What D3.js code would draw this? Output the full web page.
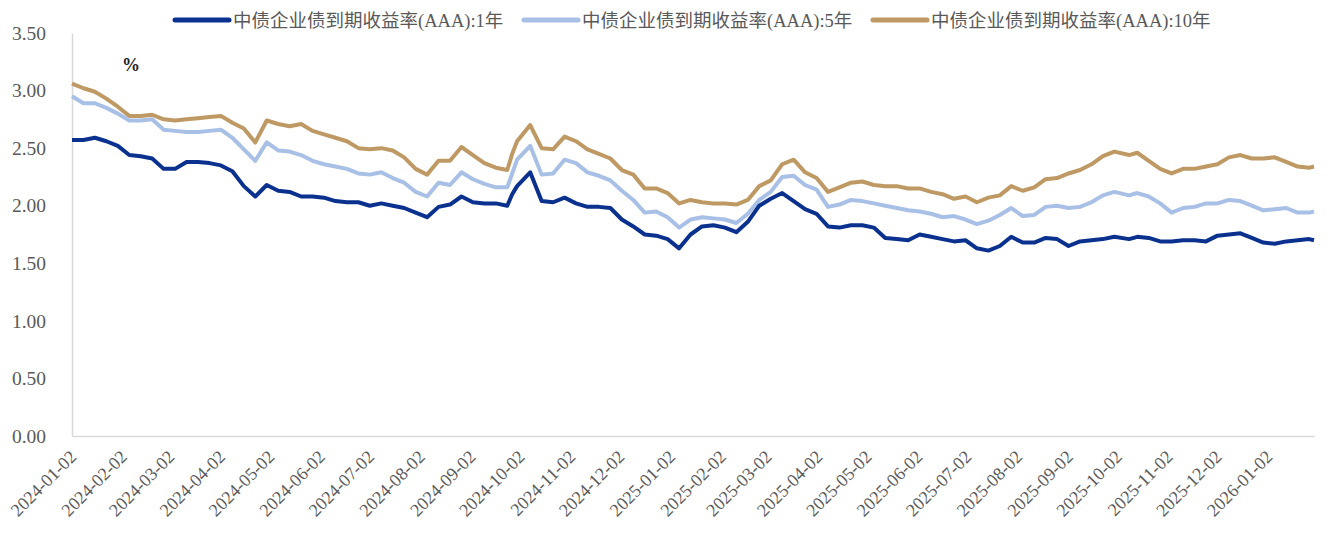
<!DOCTYPE html>
<html>
<head>
<meta charset="utf-8">
<script src="https://cdn.jsdelivr.net/npm/d3@7"></script>
<style>
  body { margin: 0; background: #fff; }
  #vis text { font-family: "Liberation Serif", "Noto Sans CJK SC", serif; fill: #595959; }
  .axis path { stroke: #d9d9d9; stroke-width: 1.5; }
</style>
</head>
<body>
<div id="vis"></div>
<script>
// Chinese AAA corporate bond yields, weekly samples

/* *************************** Data ***************************** */

var dates = [
  '2024-01-02','2024-01-09','2024-01-16','2024-01-23','2024-01-30','2024-02-06','2024-02-13','2024-02-20','2024-02-27',
  '2024-03-05','2024-03-12','2024-03-19','2024-03-26','2024-04-02','2024-04-09','2024-04-16','2024-04-23','2024-04-30',
  '2024-05-07','2024-05-14','2024-05-21','2024-05-28','2024-06-04','2024-06-11','2024-06-18','2024-06-25','2024-07-02',
  '2024-07-09','2024-07-16','2024-07-23','2024-07-30','2024-08-06','2024-08-13','2024-08-20','2024-08-27','2024-09-03',
  '2024-09-10','2024-09-17','2024-09-24','2024-09-27','2024-09-30','2024-10-08','2024-10-15','2024-10-22','2024-10-29',
  '2024-11-05','2024-11-12','2024-11-19','2024-11-26','2024-12-03','2024-12-10','2024-12-17','2024-12-24','2024-12-31',
  '2025-01-07','2025-01-14','2025-01-21','2025-01-28','2025-02-04','2025-02-11','2025-02-18','2025-02-25','2025-03-04',
  '2025-03-11','2025-03-18','2025-03-25','2025-04-01','2025-04-08','2025-04-15','2025-04-22','2025-04-29','2025-05-06',
  '2025-05-13','2025-05-20','2025-05-27','2025-06-03','2025-06-10','2025-06-17','2025-06-24','2025-07-01','2025-07-08',
  '2025-07-15','2025-07-22','2025-07-29','2025-08-05','2025-08-12','2025-08-19','2025-08-26','2025-09-02','2025-09-09',
  '2025-09-16','2025-09-23','2025-09-30','2025-10-09','2025-10-14','2025-10-21','2025-10-28','2025-11-04','2025-11-11',
  '2025-11-18','2025-11-25','2025-12-02','2025-12-09','2025-12-16','2025-12-23','2025-12-30','2026-01-06','2026-01-13',
  '2026-01-20','2026-01-27','2026-01-30'
];

var yield1y = [
  2.57,2.57,2.59,2.56,2.52,2.44,2.43,2.41,2.32,
  2.32,2.38,2.38,2.37,2.35,2.30,2.17,2.08,2.18,
  2.13,2.12,2.08,2.08,2.07,2.04,2.03,2.03,2.00,
  2.02,2.00,1.98,1.94,1.90,1.99,2.01,2.08,2.03,
  2.02,2.02,2.00,2.10,2.17,2.29,2.04,2.03,2.07,
  2.02,1.99,1.99,1.98,1.88,1.82,1.75,1.74,1.71,
  1.63,1.75,1.82,1.83,1.81,1.77,1.86,2.00,2.06,
  2.11,2.04,1.97,1.93,1.82,1.81,1.83,1.83,1.81,
  1.72,1.71,1.70,1.75,1.73,1.71,1.69,1.70,1.63,
  1.61,1.65,1.73,1.68,1.68,1.72,1.71,1.65,1.69,
  1.70,1.71,1.73,1.71,1.73,1.72,1.69,1.69,1.70,
  1.70,1.69,1.74,1.75,1.76,1.72,1.68,1.67,1.69,
  1.70,1.71,1.70
];

var yield5y = [
  2.95,2.89,2.89,2.85,2.80,2.74,2.74,2.75,2.66,
  2.65,2.64,2.64,2.65,2.66,2.59,2.49,2.39,2.55,
  2.48,2.47,2.44,2.39,2.36,2.34,2.32,2.28,2.27,
  2.29,2.24,2.20,2.12,2.08,2.20,2.18,2.29,2.23,
  2.19,2.16,2.16,2.28,2.40,2.52,2.27,2.28,2.40,
  2.37,2.29,2.26,2.22,2.13,2.05,1.94,1.95,1.90,
  1.81,1.88,1.90,1.89,1.88,1.85,1.93,2.05,2.12,
  2.25,2.26,2.18,2.14,1.99,2.01,2.05,2.04,2.02,
  2.00,1.98,1.96,1.95,1.93,1.90,1.91,1.88,1.84,
  1.87,1.92,1.98,1.91,1.92,1.99,2.00,1.98,1.99,
  2.03,2.09,2.12,2.09,2.11,2.08,2.02,1.94,1.98,
  1.99,2.02,2.02,2.05,2.04,2.00,1.96,1.97,1.98,
  1.94,1.94,1.95
];

var yield10y = [
  3.06,3.02,2.99,2.93,2.86,2.78,2.78,2.79,2.75,
  2.74,2.75,2.76,2.77,2.78,2.72,2.67,2.55,2.74,
  2.71,2.69,2.71,2.65,2.62,2.59,2.56,2.50,2.49,
  2.50,2.48,2.42,2.32,2.27,2.39,2.39,2.51,2.44,
  2.37,2.33,2.31,2.45,2.56,2.70,2.50,2.49,2.60,
  2.56,2.49,2.45,2.41,2.31,2.27,2.15,2.15,2.11,
  2.02,2.05,2.03,2.02,2.02,2.01,2.05,2.17,2.22,
  2.36,2.40,2.29,2.24,2.12,2.16,2.20,2.21,2.18,
  2.17,2.17,2.15,2.15,2.12,2.10,2.06,2.08,2.03,
  2.07,2.09,2.17,2.13,2.16,2.23,2.24,2.28,2.31,
  2.36,2.43,2.47,2.44,2.46,2.39,2.32,2.28,2.32,
  2.32,2.34,2.36,2.42,2.44,2.41,2.41,2.42,2.38,
  2.34,2.33,2.34
];

var seriesNames = ['中债企业债到期收益率(AAA):1年', '中债企业债到期收益率(AAA):5年', '中债企业债到期收益率(AAA):10年'];
var seriesColors = ['#0b318f', '#a8bfe6', '#be9964'];

var xTickLabels = [
  '2024-01-02','2024-02-02','2024-03-02','2024-04-02','2024-05-02','2024-06-02','2024-07-02','2024-08-02','2024-09-02',
  '2024-10-02','2024-11-02','2024-12-02','2025-01-02','2025-02-02','2025-03-02','2025-04-02','2025-05-02','2025-06-02',
  '2025-07-02','2025-08-02','2025-09-02','2025-10-02','2025-11-02','2025-12-02','2026-01-02'
];
var yTicks = [0, 0.5, 1, 1.5, 2, 2.5, 3, 3.5];

/* *************************** Settings ***************************** */

var width = 1333;
var height = 535;
var margin = { left: 72, right: 19, top: 33, bottom: 99 };
var drawWidth = width - margin.left - margin.right;
var drawHeight = height - margin.top - margin.bottom;

var parse = d3.timeParse('%Y-%m-%d');

var svg = d3.select('#vis')
    .append('svg')
    .attr('width', width)
    .attr('height', height);

var g = svg.append('g')
    .attr('transform', 'translate(' + margin.left + ',' + margin.top + ')');

/* *************************** Scales ***************************** */

var xScale = d3.scaleTime()
    .domain([parse('2024-01-02'), parse('2026-01-30')])
    .range([0, drawWidth]);

var yScale = d3.scaleLinear()
    .domain([0, 3.5])
    .range([drawHeight, 0]);

/* *************************** Axes ***************************** */

var xAxis = d3.axisBottom(xScale)
    .tickValues(xTickLabels.map(parse))
    .tickFormat(d3.timeFormat('%Y-%m-%d'))
    .tickSize(0)
    .tickSizeOuter(0);

var xAxisG = g.append('g')
    .attr('class', 'axis')
    .attr('transform', 'translate(0,' + drawHeight + ')')
    .call(xAxis);

xAxisG.selectAll('text')
    .attr('y', 0)
    .attr('x', 0)
    .attr('dy', 0)
    .attr('transform', 'translate(5,22) rotate(-45)')
    .style('text-anchor', 'end')
    .style('font-size', '18px');

var yAxis = d3.axisLeft(yScale)
    .tickValues(yTicks)
    .tickFormat(d3.format('.2f'))
    .tickSize(0)
    .tickSizeOuter(0)
    .tickPadding(26);

var yAxisG = g.append('g')
    .attr('class', 'axis')
    .call(yAxis);

yAxisG.selectAll('text')
    .style('font-size', '19.5px');

/* *************************** Lines ***************************** */

var allSeries = [yield1y, yield5y, yield10y];

var line = d3.line()
    .x(function(d, i) { return xScale(parse(dates[i])); })
    .y(function(d) { return yScale(d); });

// draw 10y first so the 1y line sits on top
[2, 1, 0].forEach(function(k) {
    g.append('path')
        .datum(allSeries[k])
        .attr('fill', 'none')
        .attr('stroke', seriesColors[k])
        .attr('stroke-width', 4)
        .attr('stroke-linejoin', 'round')
        .attr('d', line);
});

// unit label
g.append('text')
    .attr('x', 50)
    .attr('y', 38)
    .style('font-size', '18px')
    .style('font-weight', 'bold')
    .style('fill', '#222')
    .text('%');

/* *************************** Legend ***************************** */

var legendX = [175, 524, 873];
var legend = svg.selectAll('.legend')
    .data(seriesNames)
    .enter().append('g')
    .attr('class', 'legend')
    .attr('transform', function(d, i) { return 'translate(' + legendX[i] + ',20)'; });

legend.append('line')
    .attr('x1', 0).attr('x2', 54)
    .attr('y1', 0).attr('y2', 0)
    .attr('stroke', function(d, i) { return seriesColors[i]; })
    .attr('stroke-width', 5)
    .attr('stroke-linecap', 'round');

legend.append('text')
    .attr('x', 58)
    .attr('y', 7)
    .style('font-size', '18.5px')
    .text(function(d) { return d; });
</script>
</body>
</html>
